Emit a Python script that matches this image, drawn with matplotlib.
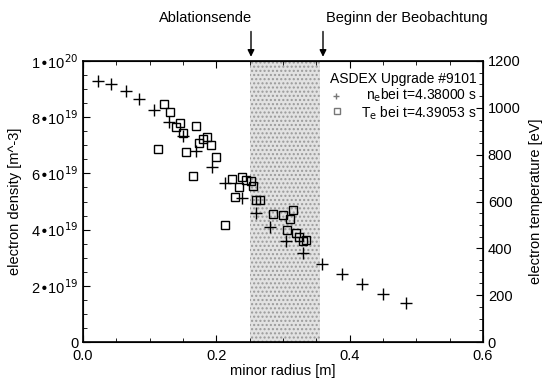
import matplotlib
matplotlib.use("Agg")
import matplotlib.pyplot as plt
import numpy as np
from matplotlib.ticker import FixedLocator, MultipleLocator

plt.rcParams.update({
    "font.family": ["Liberation Sans", "DejaVu Sans"],
    "font.size": 10.5,
    "xtick.direction": "in",
    "ytick.direction": "in",
    "figure.facecolor": "white",
})

# electron density (crosses), units of 1e19 m^-3
r_ne = [0.022, 0.042, 0.064, 0.0845, 0.107, 0.1286, 0.1496, 0.170, 0.193, 0.213,
        0.238, 0.2595, 0.2805, 0.304, 0.330, 0.359, 0.389, 0.419, 0.450, 0.484]
ne = [9.30, 9.17, 8.94, 8.65, 8.26, 7.83, 7.34, 6.79, 6.24, 5.65,
      5.11, 4.58, 4.08, 3.61, 3.18, 2.79, 2.42, 2.06, 1.71, 1.38]

# electron temperature (squares), eV
r_te = [0.112, 0.1215, 0.1305, 0.1395, 0.1455, 0.1505, 0.1545, 0.1645, 0.1695, 0.1745,
        0.1805, 0.1855, 0.1925, 0.1995, 0.213, 0.2235, 0.228, 0.234, 0.238, 0.2445,
        0.2515, 0.2545, 0.2595, 0.2655, 0.2845, 0.3005, 0.3055, 0.310, 0.315, 0.3195,
        0.3245, 0.3295, 0.3345]
te = [823, 1016, 983, 919, 936, 891, 811, 709, 922, 851,
      865, 877, 841, 789, 498, 698, 619, 662, 703, 692,
      689, 666, 605, 605, 547, 542, 478, 524, 563, 467,
      450, 433, 436]

shade = (0.25, 0.355)
ne_ticks = [0, 2, 4, 6, 8, 10]
ne_ticklabels = ["0", "2•10$^{19}$", "4•10$^{19}$", "6•10$^{19}$", "8•10$^{19}$", "1•10$^{20}$"]

fig = plt.figure(figsize=(5.44, 3.79), dpi=100)
ax = fig.add_axes([83 / 544, 1 - 342 / 379, 400 / 544, 281 / 379])

ax.axvspan(*shade, facecolor="#e2e2e2", edgecolor="#9a9a9a", hatch="....", linewidth=0, zorder=0)

ax.plot(r_ne, ne, linestyle="none", marker="+", markersize=8, markeredgewidth=1.0, color="black", zorder=3)

ax.set_xlim(0, 0.6)
ax.set_ylim(0, 10)
ax.xaxis.set_major_locator(MultipleLocator(0.2))
ax.xaxis.set_minor_locator(MultipleLocator(0.05))
ax.xaxis.set_major_formatter(matplotlib.ticker.FormatStrFormatter("%.1f"))
ax.yaxis.set_major_locator(FixedLocator(ne_ticks))
ax.set_yticklabels(ne_ticklabels)
ax.yaxis.set_minor_locator(MultipleLocator(0.5))
ax.tick_params(which="both", top=True, right=False)
ax.tick_params(which="major", length=5)
ax.tick_params(which="minor", length=3)
ax.tick_params(axis="x", pad=5)
ax.set_xlabel("minor radius [m]", labelpad=1)
ax.set_ylabel("electron density [m^-3]", labelpad=6)

ax2 = ax.twinx()
ax2.plot(r_te, te, linestyle="none", marker="s", markersize=6, markerfacecolor="none",
         markeredgecolor="black", markeredgewidth=1.0, zorder=3)
ax2.set_ylim(0, 1200)
ax2.yaxis.set_major_locator(MultipleLocator(200))
ax2.yaxis.set_minor_locator(MultipleLocator(50))
ax2.tick_params(which="major", length=5)
ax2.tick_params(which="minor", length=3)
ax2.set_ylabel("electron temperature [eV]", labelpad=6)

for s in ax.spines.values():
    s.set_linewidth(1.2)

# legend block
ax2.text(0.591, 1122, "ASDEX Upgrade #9101", ha="right", va="center", fontsize=10)
ax2.text(0.591, 1052, "n$_\\mathrm{e}$bei t=4.38000 s", ha="right", va="center", fontsize=10)
ax2.text(0.591, 978, "T$_\\mathrm{e}$ bei t=4.39053 s", ha="right", va="center", fontsize=10)
ax2.plot([0.380], [1052], marker="+", markersize=4, color="#777777", linestyle="none")
ax2.plot([0.381], [985], marker="s", markersize=4, markerfacecolor="none",
         markeredgecolor="#777777", linestyle="none")

# annotations above the frame
ax.annotate("", xy=(0.252, 1.005), xycoords=("data", "axes fraction"),
            xytext=(0.252, 1.115), textcoords=("data", "axes fraction"),
            arrowprops=dict(arrowstyle="-|>", color="black", lw=1, mutation_scale=10))
ax.annotate("", xy=(0.360, 1.005), xycoords=("data", "axes fraction"),
            xytext=(0.360, 1.115), textcoords=("data", "axes fraction"),
            arrowprops=dict(arrowstyle="-|>", color="black", lw=1, mutation_scale=10))
fig.text(206 / 544, 1 - 18 / 379, "Ablationsende", ha="center", va="center", fontsize=10.5)
fig.text(326 / 544, 1 - 18 / 379, "Beginn der Beobachtung", ha="left", va="center", fontsize=10.5)

fig.savefig("out.png", dpi=100)
